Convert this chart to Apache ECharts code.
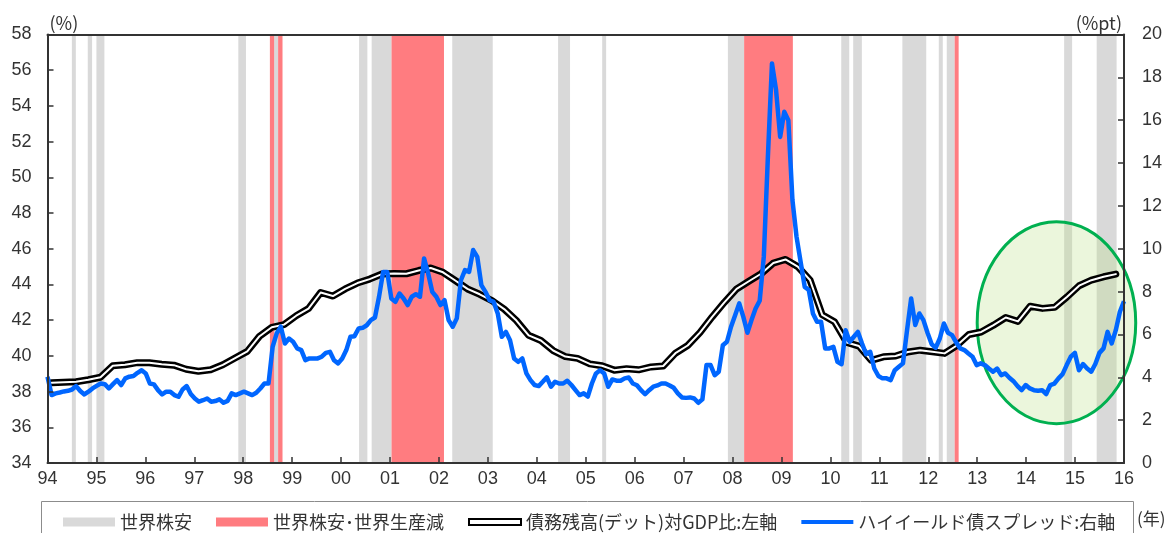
<!DOCTYPE html>
<html>
<head>
<meta charset="utf-8">
<script src="https://cdn.jsdelivr.net/npm/echarts@6/dist/echarts.min.js"></script>
<style>
  html, body { margin: 0; padding: 0; background: #ffffff; }
  #chart { width: 1165px; height: 533px; }
</style>
</head>
<body>
<div id="chart"></div>
<script>
// Axis ranges and tick spacing
const yearMin = 1994;
const yearMax = 2016;
const leftAxisRange = [34, 58];   // 債務残高 対GDP比 (%)
const rightAxisRange = [0, 20];   // ハイイールド債スプレッド (%pt)

// 債務残高（デット）対GDP比, quarterly, 1994Q1 .. 2015Q4 (%)
const debtToGdp = [
  38.50, 38.52, 38.55, 38.66,
  38.80, 39.45, 39.50, 39.62,
  39.62, 39.53, 39.48, 39.25,
  39.14, 39.22, 39.50, 39.88,
  40.25, 41.10, 41.60, 41.75,
  42.25, 42.65, 43.55, 43.35,
  43.75, 44.08, 44.30, 44.58,
  44.62, 44.60, 44.78, 44.92,
  44.68, 44.22, 43.75, 43.45,
  43.10, 42.62, 41.98, 41.15,
  40.86, 40.30, 39.96, 39.86,
  39.55, 39.45, 39.20, 39.28,
  39.22, 39.38, 39.43, 40.15,
  40.58, 41.30, 42.18, 43.00,
  43.75, 44.18, 44.60, 45.20,
  45.40, 45.00, 44.25, 42.30,
  41.91, 40.75, 40.55, 39.75,
  39.95, 39.99, 40.22, 40.32,
  40.23, 40.14, 40.58, 41.20,
  41.34, 41.72, 42.15, 41.93,
  42.78, 42.66, 42.72, 43.30,
  43.93, 44.24, 44.43, 44.58
];

// ハイイールド債スプレッド, monthly, Jan 1994 .. Dec 2015 (%pt)
const hySpread = [
  4.03, 3.17, 3.25, 3.29, 3.34, 3.37, 3.43, 3.59, 3.36, 3.20, 3.33, 3.48,
  3.60, 3.71, 3.68, 3.48, 3.68, 3.87, 3.64, 3.95, 4.03, 4.06, 4.21, 4.33,
  4.18, 3.71, 3.67, 3.40, 3.20, 3.33, 3.33, 3.17, 3.09, 3.43, 3.59, 3.22,
  3.01, 2.86, 2.93, 3.01, 2.86, 2.89, 2.97, 2.81, 2.90, 3.25, 3.17, 3.25,
  3.33, 3.25, 3.17, 3.28, 3.48, 3.71, 3.71, 5.42, 6.05, 6.36, 5.58, 5.81,
  5.66, 5.35, 5.27, 4.80, 4.88, 4.88, 4.88, 4.96, 5.14, 5.19, 4.80, 4.65,
  4.88, 5.27, 5.89, 5.92, 6.28, 6.31, 6.43, 6.67, 6.79, 7.76, 8.92, 8.92,
  7.68, 7.52, 7.91, 7.68, 7.37, 7.76, 7.88, 7.76, 9.55, 8.85, 7.99, 7.76,
  7.37, 7.60, 6.67, 6.36, 6.75, 8.53, 9.00, 8.92, 9.94, 9.62, 8.30, 7.99,
  7.60, 7.52, 6.98, 5.89, 6.12, 5.73, 4.88, 4.72, 4.88, 4.18, 3.87, 3.64,
  3.59, 3.79, 4.00, 3.56, 3.79, 3.71, 3.71, 3.84, 3.64, 3.40, 3.17, 3.25,
  3.10, 3.71, 4.18, 4.33, 4.18, 3.56, 3.90, 3.84, 3.84, 3.95, 3.99, 3.71,
  3.63, 3.40, 3.21, 3.40, 3.56, 3.62, 3.71, 3.71, 3.62, 3.51, 3.25, 3.06,
  3.04, 3.06, 3.01, 2.81, 2.97, 4.57, 4.57, 4.10, 4.26, 5.50, 5.66, 6.36,
  6.90, 7.45, 6.82, 6.08, 6.67, 7.21, 7.57, 9.62, 14.29, 18.65, 17.40, 15.22,
  16.39, 16.00, 12.27, 10.56, 9.39, 8.22, 8.07, 6.98, 6.59, 6.59, 5.35, 5.35,
  5.42, 4.72, 4.61, 6.20, 5.66, 5.89, 6.12, 5.58, 5.08, 5.19, 4.41, 4.06,
  3.95, 3.95, 3.87, 4.33, 4.49, 4.65, 6.20, 7.68, 6.44, 6.98, 6.67, 6.08,
  5.55, 5.38, 5.81, 6.51, 6.08, 5.97, 5.63, 5.35, 5.27, 5.11, 4.96, 4.57,
  4.65, 4.57, 4.41, 4.26, 4.41, 4.10, 4.18, 3.98, 3.82, 3.59, 3.40, 3.64,
  3.48, 3.40, 3.37, 3.40, 3.22, 3.64, 3.71, 3.95, 4.15, 4.57, 4.96, 5.14,
  4.33, 4.62, 4.41, 4.26, 4.62, 5.14, 5.35, 6.12, 5.58, 6.20, 7.06, 7.55
];

// 世界株安 periods [start, end] in fractional years
const stockSlumps = [
  [1994.498, 1994.579], [1994.823, 1994.911], [1995.000, 1995.163],
  [1997.900, 1998.056], [1998.632, 1998.713],
  [2000.368, 2000.537], [2000.625, 2001.031],
  [2002.272, 2003.099], [2004.435, 2004.679], [2005.336, 2005.417],
  [2007.905, 2008.237],
  [2010.222, 2010.385], [2010.466, 2010.643], [2011.471, 2011.959],
  [2012.215, 2012.297], [2012.378, 2012.540],
  [2014.777, 2014.940], [2015.442, 2015.849]
];

// 世界株安・世界生産減 periods [start, end] in fractional years
const slumpsWithOutputDrop = [
  [1998.545, 1998.632], [1998.713, 1998.803],
  [2001.031, 2002.103],
  [2008.237, 2009.233],
  [2012.540, 2012.621]
];

// Highlighted recent period: centre (year, left-axis %) and radii
const highlight = { year: 2014.62, value: 41.86, yearRadius: 1.62, valueRadius: 5.655 };

// Legend / series names and colours
const names = {
  slump: '世界株安',
  slumpOutput: '世界株安･世界生産減',
  debt: '債務残高(デット)対GDP比:左軸',
  spread: 'ハイイールド債スプレッド:右軸'
};
const colors = {
  slump: '#d9d9d9',
  slumpOutput: '#ff7c80',
  debt: '#000000',
  spread: '#0066ff',
  axis: '#333333',
  text: '#333333'
};

// x positions: quarterly points in the middle month of each quarter;
// monthly points spread evenly across the full year span of the axis
const debtPoints = debtToGdp.map((v, k) => [yearMin + 1 / 12 + k * 0.25, v]);
const monthStep = (yearMax - yearMin) / (hySpread.length - 1);
const spreadPoints = hySpread.map((v, i) => [yearMin + i * monthStep, v]);

const numFont = 'Liberation Sans, Arial, sans-serif';
const cjkFont = 'Noto Sans CJK JP, sans-serif';

const chart = echarts.init(document.getElementById('chart'), null, { renderer: 'canvas' });

const axisLineStyle = { lineStyle: { color: colors.axis, width: 2 } };

const option = {
  animation: false,
  backgroundColor: '#ffffff',
  grid: { left: 47.5, top: 34.5, width: 1082, height: 428.5, containLabel: false },
  xAxis: [
    {
      type: 'value', min: yearMin, max: yearMax, interval: 1, z: 5,
      axisLine: axisLineStyle,
      axisTick: { inside: true, length: 6, lineStyle: { color: colors.axis, width: 1.5 } },
      splitLine: { show: false },
      axisLabel: {
        margin: 7, color: colors.text, fontFamily: numFont, fontSize: 18,
        formatter: v => String(Math.round(v) % 100).padStart(2, '0')
      }
    },
    {
      type: 'value', position: 'top', min: yearMin, max: yearMax, z: 5,
      axisLine: axisLineStyle, axisTick: { show: false }, axisLabel: { show: false },
      splitLine: { show: false }
    }
  ],
  yAxis: [
    {
      type: 'value', min: leftAxisRange[0], max: leftAxisRange[1], interval: 2, z: 5,
      position: 'left',
      name: '(%)', nameLocation: 'end', nameGap: 2,
      nameTextStyle: { align: 'left', verticalAlign: 'bottom', color: colors.text, fontFamily: cjkFont, fontSize: 18, padding: [0, 0, 0, 2] },
      axisLine: { show: true, ...axisLineStyle },
      axisTick: { show: true, inside: true, length: 6, lineStyle: { color: colors.axis, width: 1.5 } },
      splitLine: { show: false },
      axisLabel: { margin: 16, color: colors.text, fontFamily: numFont, fontSize: 18 }
    },
    {
      type: 'value', min: rightAxisRange[0], max: rightAxisRange[1], interval: 2, z: 5,
      position: 'right',
      name: '(%pt)', nameLocation: 'end', nameGap: 2,
      nameTextStyle: { align: 'right', verticalAlign: 'bottom', color: colors.text, fontFamily: cjkFont, fontSize: 18, padding: [0, 2, 0, 0] },
      axisLine: { show: true, ...axisLineStyle },
      axisTick: { show: true, inside: true, length: 6, lineStyle: { color: colors.axis, width: 1.5 } },
      splitLine: { show: false },
      axisLabel: { margin: 18, color: colors.text, fontFamily: numFont, fontSize: 18 }
    }
  ],
  legend: {
    left: 58, top: 508, width: 1080, itemWidth: 52, itemHeight: 9, itemGap: 24,
    selectedMode: false,
    textStyle: { fontFamily: cjkFont, fontSize: 18, color: colors.text },
    data: [
      { name: names.slump, icon: 'rect', itemStyle: { color: colors.slump } },
      { name: names.slumpOutput, icon: 'rect', itemStyle: { color: colors.slumpOutput } },
      { name: names.debt, icon: 'path://M0,0H52V6H0Z', itemStyle: { color: '#ffffff', borderColor: '#000000', borderWidth: 2 } },
      { name: names.spread, icon: 'path://M0,0H52V4H0Z', itemStyle: { color: colors.spread } }
    ]
  },
  series: [
    {
      name: names.slump, type: 'line', data: [], z: 1, silent: true,
      itemStyle: { color: colors.slump },
      markArea: {
        silent: true, z: 1,
        itemStyle: { color: colors.slump, opacity: 1, borderWidth: 0 },
        emphasis: { disabled: true },
        data: stockSlumps.map(([s, e]) => [{ xAxis: s }, { xAxis: e }])
      }
    },
    {
      name: names.slumpOutput, type: 'line', data: [], z: 1, silent: true,
      itemStyle: { color: colors.slumpOutput },
      markArea: {
        silent: true, z: 1,
        itemStyle: { color: colors.slumpOutput, opacity: 1, borderWidth: 0 },
        emphasis: { disabled: true },
        data: slumpsWithOutputDrop.map(([s, e]) => [{ xAxis: s }, { xAxis: e }])
      }
    },
    {
      // outer black stroke of the double line
      name: names.debt, type: 'line', xAxisIndex: 0, yAxisIndex: 0, z: 3,
      data: debtPoints, showSymbol: false, symbol: 'none',
      itemStyle: { color: '#000000' },
      lineStyle: { color: '#000000', width: 7, cap: 'round', join: 'round' }
    },
    {
      // white core of the double line
      name: names.debt, type: 'line', xAxisIndex: 0, yAxisIndex: 0, z: 3,
      data: debtPoints, showSymbol: false, symbol: 'none',
      itemStyle: { color: '#ffffff' },
      lineStyle: { color: '#ffffff', width: 2, cap: 'round', join: 'round' }
    },
    {
      name: names.spread, type: 'line', xAxisIndex: 0, yAxisIndex: 1, z: 4,
      data: spreadPoints, showSymbol: false, symbol: 'none',
      itemStyle: { color: colors.spread },
      lineStyle: { color: colors.spread, width: 4.5, join: 'round' }
    }
  ]
};

chart.setOption(option);

// Highlight ellipse, legend frame and unit note, placed through the axes' own scales
const c = chart.convertToPixel({ xAxisIndex: 0, yAxisIndex: 0 }, [highlight.year, highlight.value]);
const r = chart.convertToPixel({ xAxisIndex: 0, yAxisIndex: 0 },
  [highlight.year + highlight.yearRadius, highlight.value + highlight.valueRadius]);

chart.setOption({
  graphic: [
    {
      type: 'ellipse', z: 2, silent: true,
      shape: { cx: c[0], cy: c[1], rx: Math.abs(r[0] - c[0]), ry: Math.abs(c[1] - r[1]) },
      style: { fill: 'rgba(190, 225, 140, 0.30)', stroke: '#00b050', lineWidth: 3 }
    },
    {
      type: 'rect', z: 0, silent: true,
      shape: { x: 41.5, y: 501.5, width: 1092, height: 60 },
      style: { fill: 'none', stroke: '#8c8c8c', lineWidth: 1 }
    },
    {
      type: 'text', z: 5, silent: true, left: 1137, top: 510,
      style: { text: '(年)', fill: colors.text, font: '17px Noto Sans CJK JP' }
    }
  ]
});
</script>
</body>
</html>
